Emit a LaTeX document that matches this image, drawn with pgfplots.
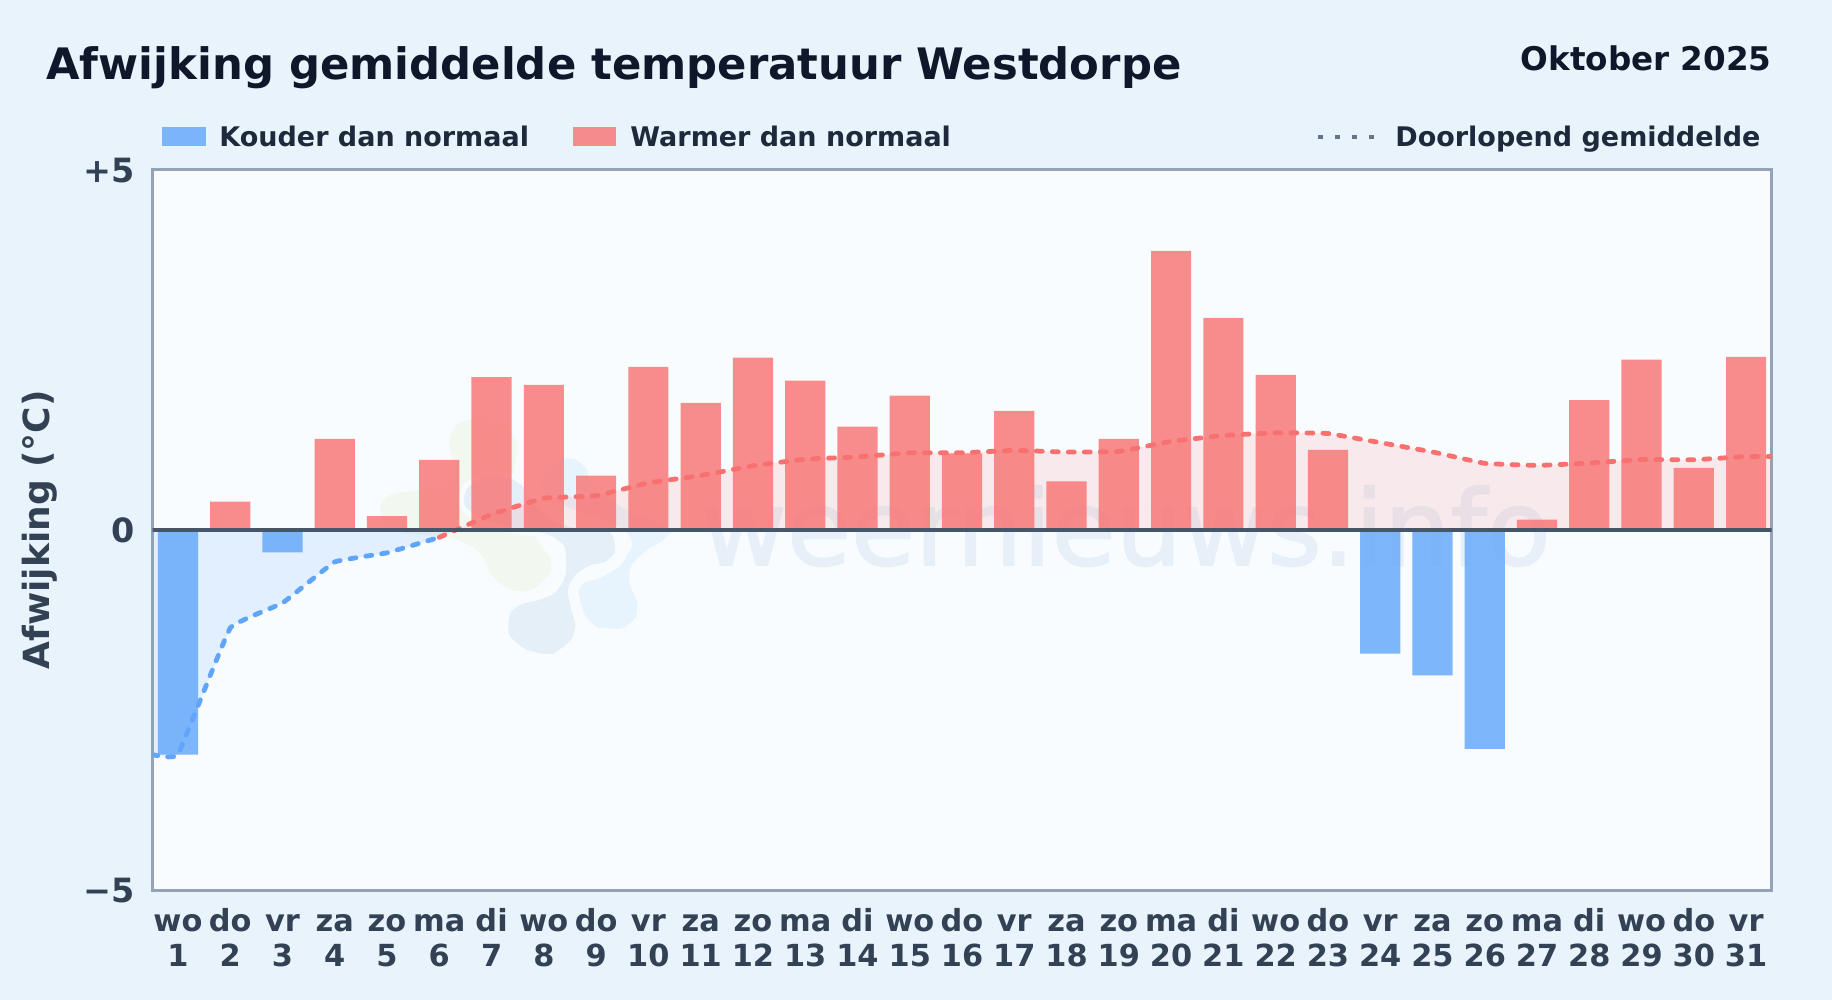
\documentclass[border=0pt]{standalone}
\usepackage{fontspec}
\setmainfont{DejaVu Sans}
\newfontfamily\wmfont[FakeBold=1.5]{DejaVu Sans}
\usepackage{pgfplots}
\pgfplotsset{compat=1.18}
\definecolor{pagebg}{HTML}{E9F3FC}
\definecolor{plotbg}{HTML}{F8FCFF}
\definecolor{coldc}{HTML}{60A5FA}
\definecolor{warmc}{HTML}{F87171}
\definecolor{frame}{HTML}{94A3B8}
\definecolor{zeroline}{HTML}{475569}
\definecolor{labelc}{HTML}{334155}
\definecolor{legendc}{HTML}{1E293B}
\definecolor{titlec}{HTML}{0F172A}
\definecolor{dotc}{HTML}{64748B}
\definecolor{wmtext}{HTML}{E7F0F8}
\definecolor{blobdark}{HTML}{E5EFF8}
\definecolor{bloblight}{HTML}{E8F4FD}
\definecolor{blobgreen}{HTML}{F2F7F0}
\newcommand{\dl}[2]{\rule{0pt}{12pt}#1\\#2}
\begin{document}
\begin{tikzpicture}
\path[use as bounding box] (0,0) rectangle (916pt,-500pt);
\fill[pagebg] (0,0) rectangle (916pt,-500pt);
\fill[plotbg] (76.35pt,-84.75pt) rectangle (885.85pt,-445pt);

% watermark logo, in crop units of the reference
\begin{scope}[x=0.16667pt,y=-0.16667pt,shift={(180pt,-200pt)}]
\filldraw[fill=blobgreen,draw=plotbg,line width=2pt] plot[smooth cycle,tension=0.9] coordinates {
(480,580)(400,540)(360,470)(300,430)(230,415)(120,400)(60,350)(80,285)(170,265)(270,240)(265,110)(330,50)(400,60)(470,110)(470,200)(460,290)(540,420)(580,490)(550,550)};
\filldraw[fill=blobdark,draw=plotbg,line width=2.5pt] plot[smooth cycle,tension=0.9] coordinates {
(545,768)(460,730)(438,670)(465,615)(540,590)(590,560)(610,490)(580,420)(450,390)(340,350)(305,290)(350,235)(420,222)(490,250)(540,320)(620,370)(730,380)(772,430)(750,485)(680,510)(635,560)(640,620)(652,690)(610,750)};
\filldraw[fill=bloblight,draw=plotbg,line width=2.5pt] plot[smooth cycle,tension=0.9] coordinates {
(750,693)(690,675)(655,610)(660,550)(730,520)(790,470)(790,400)(650,340)(560,300)(540,230)(610,170)(680,195)(710,260)(820,330)(930,380)(920,420)(850,470)(815,530)(840,620)(810,680)};
\end{scope}
\node[anchor=base west,inner sep=0pt,text=wmtext,font=\wmfont\fontsize{52.2}{52.2}\selectfont] at (350.5pt,-282.5pt) {weernieuws.info};

\begin{axis}[
    at={(76.35pt,-445pt)},
    anchor=south west,
    scale only axis,
    width=809.5pt,
    height=360.25pt,
    xmin=0.517,xmax=31.49,
    ymin=-5,ymax=5,
    axis line style={draw=frame,line width=1.5pt},
    tick style={draw=none},
    major tick length=0pt,
    xtick={1,...,31},
    xticklabels={{\dl{wo}{1}},{\dl{do}{2}},{\dl{vr}{3}},{\dl{za}{4}},{\dl{zo}{5}},{\dl{ma}{6}},{\dl{di}{7}},{\dl{wo}{8}},{\dl{do}{9}},{\dl{vr}{10}},{\dl{za}{11}},{\dl{zo}{12}},{\dl{ma}{13}},{\dl{di}{14}},{\dl{wo}{15}},{\dl{do}{16}},{\dl{vr}{17}},{\dl{za}{18}},{\dl{zo}{19}},{\dl{ma}{20}},{\dl{di}{21}},{\dl{wo}{22}},{\dl{do}{23}},{\dl{vr}{24}},{\dl{za}{25}},{\dl{zo}{26}},{\dl{ma}{27}},{\dl{di}{28}},{\dl{wo}{29}},{\dl{do}{30}},{\dl{vr}{31}}},
    xticklabel style={align=center,text=labelc,font=\bfseries\fontsize{15.2}{17.3}\selectfont,inner sep=0pt,yshift=-8.7pt},
    ytick={-5,0,5},
    yticklabels={−5,0,+5},
    yticklabel style={text=labelc,font=\bfseries\fontsize{16.7}{17}\selectfont,inner sep=0pt,xshift=-9pt,yshift=-0.5pt},
    ylabel={Afwijking (°C)},
    y label style={at={(axis description cs:-0.0695,0.5)},anchor=center,text=labelc,font=\bfseries\fontsize{18}{18}\selectfont},
    ybar,
    bar width=20.1pt,
    bar shift=0pt,
]
% fill under the running mean
\addplot[sharp plot,smooth,tension=0.15,draw=none,fill=coldc,fill opacity=0.15] coordinates {
(0.5,-3.12)(1,-3.12)(2,-1.365)(3,-1.017)(4,-0.447)(5,-0.32)(6,-0.105)(6.33,0)} \closedcycle;
\addplot[sharp plot,smooth,tension=0.15,draw=none,fill=warmc,fill opacity=0.13] coordinates {
(6.33,0)(7,0.213)(8,0.438)(9,0.472)(10,0.651)(11,0.752)(12,0.888)(13,0.979)(14,1.011)(15,1.068)(16,1.068)(17,1.102)(18,1.078)(19,1.087)(20,1.227)(21,1.308)(22,1.346)(23,1.336)(24,1.209)(25,1.08)(26,0.922)(27,0.893)(28,0.925)(29,0.975)(30,0.971)(31,1.017)(31.5,1.017)} \closedcycle;
% daily anomalies
\addplot[draw=none,fill=coldc,opacity=0.8] coordinates {
(1,-3.12)(3,-0.315)(24,-1.72)(25,-2.02)(26,-3.04)};
\addplot[draw=none,fill=warmc,opacity=0.8] coordinates {
(2,0.39)(4,1.26)(5,0.19)(6,0.97)(7,2.12)(8,2.01)(9,0.75)(10,2.26)(11,1.76)(12,2.39)(13,2.07)(14,1.43)(15,1.86)(16,1.06)(17,1.65)(18,0.67)(19,1.26)(20,3.87)(21,2.94)(22,2.15)(23,1.11)(27,0.14)(28,1.8)(29,2.36)(30,0.86)(31,2.4)};
% running mean
\addplot[sharp plot,smooth,tension=0.15,coldc,line width=2.4pt,line cap=round,dash pattern=on 3pt off 5pt] coordinates {
(0.5,-3.12)(1,-3.12)(2,-1.365)(3,-1.017)(4,-0.447)(5,-0.32)(6,-0.105)};
\addplot[sharp plot,smooth,tension=0.15,warmc,line width=2.4pt,line cap=round,dash pattern=on 3pt off 5pt] coordinates {
(6,-0.105)(7,0.213)(8,0.438)(9,0.472)(10,0.651)(11,0.752)(12,0.888)(13,0.979)(14,1.011)(15,1.068)(16,1.068)(17,1.102)(18,1.078)(19,1.087)(20,1.227)(21,1.308)(22,1.346)(23,1.336)(24,1.209)(25,1.08)(26,0.922)(27,0.893)(28,0.925)(29,0.975)(30,0.971)(31,1.017)(31.5,1.017)};
% zero line
\addplot[sharp plot,zeroline,line width=2.2pt] coordinates {(0.5,0)(31.5,0)};
\end{axis}

\begin{scope}[x=0.5pt,y=-0.5pt]
\node[anchor=base west,inner sep=0pt,text=titlec,font=\bfseries\fontsize{21.67}{21.67}\selectfont] at (46,80) {Afwijking gemiddelde temperatuur Westdorpe};
\node[anchor=base east,inner sep=0pt,text=titlec,font=\bfseries\fontsize{16.3}{16.3}\selectfont] at (1772,71) {Oktober 2025};
\fill[coldc,opacity=0.8] (162,127) rectangle (206,146);
\node[anchor=base west,inner sep=0pt,text=legendc,font=\bfseries\fontsize{13.5}{13.5}\selectfont] at (219,147) {Kouder dan normaal};
\fill[warmc,opacity=0.8] (573,127) rectangle (616,146);
\node[anchor=base west,inner sep=0pt,text=legendc,font=\bfseries\fontsize{13.5}{13.5}\selectfont] at (630,147) {Warmer dan normaal};
\draw[dotc,line width=2pt,dash pattern=on 2.5pt off 6pt] (1318,137) -- (1374,137);
\node[anchor=base west,inner sep=0pt,text=legendc,font=\bfseries\fontsize{13.5}{13.5}\selectfont] at (1395,147) {Doorlopend gemiddelde};
\end{scope}
\end{tikzpicture}
\end{document}
